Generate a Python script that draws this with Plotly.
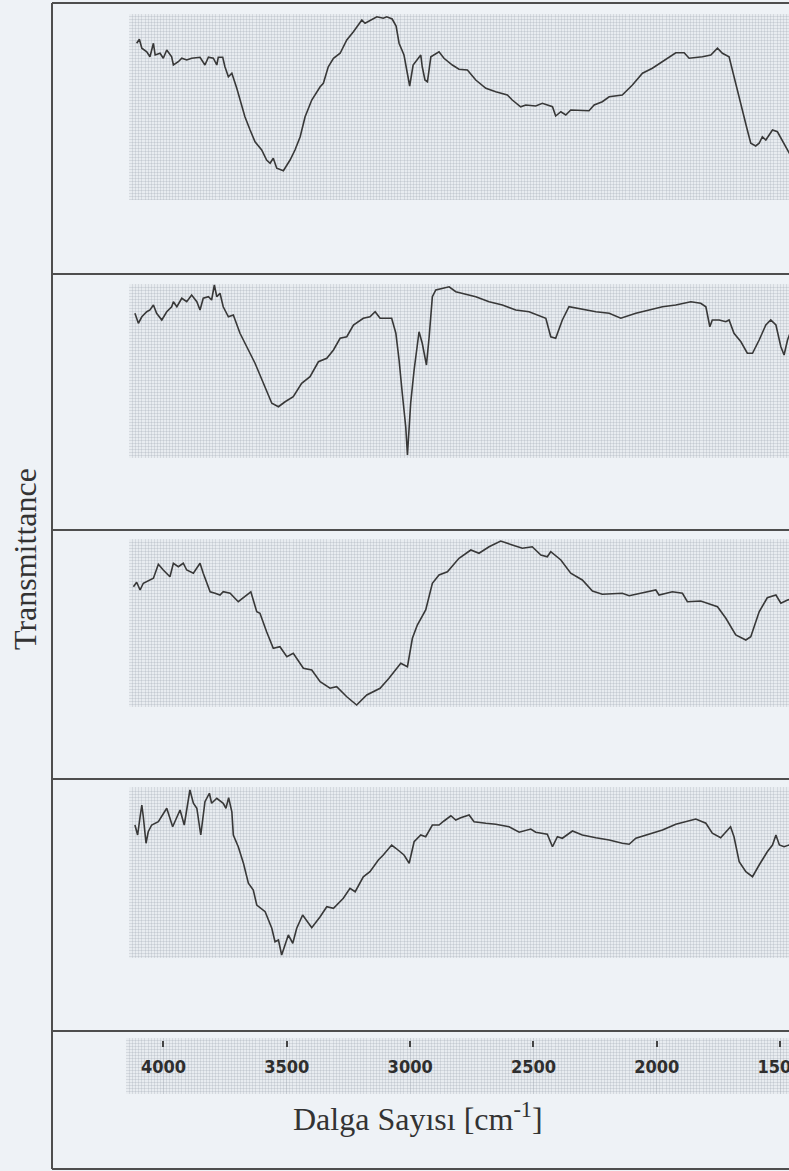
import plotly.graph_objects as go

# ---------------- data (wavenumber in cm-1, transmittance in arbitrary %) ----------------
wn1 = [4109,4098,4088,4068,4055,4041,4034,4014,4001,3987,3967,3960,3940,3926,3906,3886,3852,3832,3818,3798,
       3784,3778,3760,3751,3737,3723,3703,3690,3670,3649,3629,3602,3582,3568,3555,3541,3514,3487,3467,3446,
       3426,3399,3365,3352,3332,3311,3284,3257,3230,3196,3183,3135,3109,3095,3073,3057,3045,3025,3011,3002,
       2988,2964,2957,2951,2940,2930,2916,2883,2863,2829,2802,2768,2734,2693,2653,2606,2586,2552,2531,2491,
       2464,2423,2410,2389,2369,2349,2275,2254,2221,2193,2140,2099,2058,2018,1977,1923,1889,1869,1815,1781,
       1754,1734,1707,1687,1659,1633,1619,1599,1585,1572,1558,1531,1511,1484,1466,1455]
t1 = [92.3,93.9,90.3,88.9,86.9,92.3,87.6,88.3,86.3,89.6,86.9,83.6,84.9,86.3,85.6,86.3,86.7,83.6,86.7,86.3,
      83.6,86.7,86.7,82.9,78.9,80.3,74.3,69.6,62.9,57.6,52.9,49.6,45.6,44.3,46.3,42.3,41.3,45.6,49.6,54.9,
      62.9,69.6,74.9,76.3,82.9,86.3,88.3,93.6,96.9,101.6,100.3,102.9,102.3,102.9,102,99.2,92.3,87.6,80.3,75.2,
      83.6,86.9,87.6,82.9,77.6,76.9,86.9,88.9,86.3,83.6,81.9,81.6,77.6,74.3,72.9,71.6,69.6,66.9,67.6,67.2,
      68.3,66.9,63.2,64.9,63.6,65.6,65.3,67.6,68.9,70.9,71.6,75.6,80.3,82.3,84.9,88.5,88.5,86.3,86.9,87.6,
      90.3,88.3,86.9,78.9,66.9,57.6,52.3,51.2,52.3,54.9,53.6,57.6,56.9,52.3,48.9,47]

wn2 = [4116,4102,4088,4068,4055,4041,4028,4007,3987,3967,3960,3946,3926,3906,3886,3865,3852,3839,3818,3805,
       3794,3784,3771,3758,3737,3717,3690,3663,3629,3595,3561,3534,3507,3474,3440,3406,3372,3338,3311,3284,
       3257,3230,3190,3163,3142,3122,3075,3058,3045,3032,3018,3011,2998,2984,2964,2951,2934,2923,2910,2896,
       2869,2842,2815,2788,2734,2680,2626,2572,2518,2450,2430,2410,2383,2356,2302,2247,2193,2146,2085,2031,
       1977,1923,1862,1822,1801,1785,1775,1747,1720,1707,1687,1659,1633,1612,1585,1558,1538,1517,1497,1484,
       1470,1455]
t2 = [86.7,82.7,85.3,87.3,88,90,86.7,84,87.3,89.3,91.3,89.3,92.7,91.3,94,91.3,88,92.7,93.3,92,
      98,93.3,94.7,89.3,85.3,86,78.7,73.3,66.7,58.7,50.7,49.3,51.3,53.3,58.7,61.3,67.3,68.7,72,76.7,
      77.3,82,84.7,85.3,87.3,84.7,84.7,78.7,68,54.7,41.3,30,50.7,64,79.3,74.7,66,77.3,93.3,96,
      96.7,97.3,95.3,94.7,93.3,91.3,90,88,87.3,84.7,77.3,76.7,84,89.3,88.3,87.3,86.7,84.7,86.7,88,
      89.3,90,91.3,90.7,89.3,81.3,84,84,83.3,84,78.7,75.3,70.7,70.7,76,82,84,82,73.3,70,
      76,80]

wn3 = [4122,4109,4095,4082,4041,4021,4001,3974,3960,3940,3920,3906,3879,3852,3839,3811,3791,3771,3758,3730,
       3697,3670,3646,3622,3609,3582,3555,3528,3500,3474,3433,3399,3365,3325,3298,3257,3217,3176,3122,3086,
       3065,3038,3011,2991,2971,2937,2910,2883,2849,2802,2754,2721,2680,2633,2586,2545,2505,2470,2444,2430,
       2389,2349,2302,2261,2221,2140,2112,2058,2004,1991,1937,1896,1876,1822,1788,1754,1720,1680,1639,1619,
       1585,1552,1517,1497,1470,1455]
t3 = [76.9,78.7,75.6,78.3,80.3,85.9,83.6,80.9,86.3,84.9,86.3,83.6,82.3,86.3,82.3,74.9,74.3,73.6,74.9,74.3,
      70.9,72.9,74.9,66.9,66.3,58.9,52.3,52.9,48.9,50.3,44.3,43.6,38.9,36.3,36.9,32.9,29.6,33.6,36.3,40.3,
      42.9,46.3,44.9,56.3,61.6,67.6,78.3,81.6,82.9,88.3,91.6,90.3,92.9,95.2,93.6,92.3,92.9,89.6,88.9,90.9,
      87.6,82.3,79.6,75.2,73.9,74.3,73.3,74.3,75.6,73.6,74.9,74.3,70.9,71.2,69.9,68.9,64.3,57.6,55.6,56.9,
      66.9,72.5,73.6,70.3,71.6,72]

wn4 = [4116,4105,4095,4088,4082,4071,4062,4048,4021,3987,3963,3933,3916,3906,3893,3879,3865,3849,3832,3814,
       3805,3784,3758,3747,3736,3723,3717,3697,3676,3656,3636,3622,3588,3561,3548,3534,3521,3494,3476,3460,
       3436,3399,3365,3338,3311,3271,3244,3223,3190,3163,3129,3109,3075,3058,3025,3004,2984,2957,2937,2910,
       2883,2863,2835,2815,2795,2761,2741,2693,2653,2599,2558,2511,2491,2444,2423,2403,2383,2342,2302,2247,
       2193,2140,2112,2085,2031,1977,1923,1882,1842,1801,1775,1741,1701,1687,1666,1639,1612,1585,1552,1531,
       1517,1503,1484,1464,1455]
t4 = [82.4,78.4,85.7,90.4,85.7,75.1,79.7,82.4,83.7,89.1,81.7,88.4,82.4,89.1,96.4,91.1,89.1,78.4,91.7,95.1,
      91.1,93.1,91.1,89.1,93.3,87.7,78.4,73.7,67.1,59.1,56.4,50.4,47.7,41.1,35.7,36.4,30.4,38.4,35.1,41.1,
      46.4,41.3,45.7,49.7,49.1,53.1,57.1,55.7,61.7,63.7,68.4,70.4,74.4,73.1,70.4,67.1,75.7,78.4,77.7,82.4,
      82.4,84,86.1,84.4,85.3,86.4,83.7,83.1,82.7,81.7,79.5,80.8,79.5,78.7,73.7,77.7,77.1,80,78.4,77.3,
      76.4,75.1,74.7,77.1,78.7,80.4,82.7,83.7,84.8,83.1,79.1,77.3,81.7,77.7,67.7,63.7,61.7,66.4,71.7,74.4,
      78.4,74.4,73.7,74.4,74]

tick_vals = [4000, 3500, 3000, 2500, 2000, 1500]
tick_text = ["4000", "3500", "3000", "2500", "2000", "1500"]
x_title = "Dalga Sayısı [cm<sup>-1</sup>]"
y_title = "Transmittance"

# ---------------- layout helpers ----------------
W, H = 789, 1171
def py(p):
    return 1 - p / H

LINE = "#383838"
FRAME = "#4e4e4e"
BAND = "#e8ecf0"
GRID = "rgba(150,160,172,0.24)"
PAPER = "#eef2f6"

series = [(wn1, t1), (wn2, t2), (wn3, t3), (wn4, t4)]
ydomains = [[py(200), py(14)], [py(458), py(284)], [py(707), py(539)], [py(958), py(787)]]
yranges = [[29.6, 104], [28.8, 98.4], [28.8, 96], [29.2, 97.6]]
xdom = [129 / W, 1]
xrange_ = [4140, 1464]

fig = go.Figure()
layout = {}
for i, (wn, t) in enumerate(series, start=1):
    fig.add_trace(go.Scatter(x=wn, y=t, mode="lines", xaxis=f"x{i}", yaxis=f"y{i}",
                             line=dict(color=LINE, width=1.6), showlegend=False, hoverinfo="skip"))
    layout[f"xaxis{i}"] = dict(domain=xdom, range=xrange_, anchor=f"y{i}", showticklabels=False,
                               ticks="", showline=False, zeroline=False, showgrid=True, automargin=False,
                               tick0=0, dtick=12.5, gridcolor=GRID, gridwidth=1)
    layout[f"yaxis{i}"] = dict(domain=ydomains[i - 1], range=yranges[i - 1], anchor=f"x{i}",
                               showticklabels=False, ticks="", showline=False, zeroline=False,
                               automargin=False,
                               showgrid=True, tick0=0, dtick=1.2, gridcolor=GRID, gridwidth=1)

# bottom wavenumber axis band
fig.add_trace(go.Scatter(x=[tick_vals[0]], y=[None], mode="lines", xaxis="x5", yaxis="y5",
                         showlegend=False, hoverinfo="skip"))
layout["xaxis5"] = dict(domain=[126 / W, 1], range=[4152, 1464], anchor="free", position=py(1040),
                        side="bottom", tickvals=tick_vals, ticktext=tick_text, ticks="outside",
                        ticklen=6, tickwidth=1.5, tickcolor="#444", showline=False, zeroline=False,
                        showgrid=True, gridcolor=GRID, ticklabeloverflow="allow", automargin=False,
                        minor=dict(tick0=0, dtick=12.5, showgrid=True, gridcolor=GRID, ticks=""),
                        tickfont=dict(family="Liberation Sans Narrow, DejaVu Sans Condensed, Arial Narrow, sans-serif",
                                      size=18, color="#2e2e2e", weight="bold"),
                        ticklabelstandoff=4)
layout["yaxis5"] = dict(domain=[py(1094), py(1038)], range=[0, 56], anchor="x5", showticklabels=False,
                        ticks="", showline=False, zeroline=False, showgrid=True, tick0=0, dtick=3,
                        automargin=False, gridcolor=GRID)

shapes = []
xl = 52 / W
for yy in [3, 274, 530, 779, 1031, 1169]:
    shapes.append(dict(type="line", xref="paper", yref="paper", x0=xl, x1=1, y0=py(yy), y1=py(yy),
                       line=dict(color=FRAME, width=2)))
shapes.append(dict(type="line", xref="paper", yref="paper", x0=xl, x1=xl, y0=py(1169), y1=py(3),
                   line=dict(color=FRAME, width=2)))

annotations = [
    dict(text=y_title, xref="paper", yref="paper", x=25 / W, y=py(559), showarrow=False,
         textangle=-90, font=dict(family="Liberation Serif, Times New Roman, serif", size=32, color="#333"),
         xanchor="center", yanchor="middle"),
    dict(text=x_title, xref="paper", yref="paper", x=418 / W, y=py(1117), showarrow=False,
         font=dict(family="Liberation Serif, Times New Roman, serif", size=32, color="#333"),
         xanchor="center", yanchor="middle"),
]

fig.update_layout(width=W, height=H, margin=dict(l=0, r=0, t=0, b=0, pad=0, autoexpand=False),
                  paper_bgcolor=PAPER, plot_bgcolor=BAND, shapes=shapes, annotations=annotations,
                  showlegend=False, **layout)

clip_js = (
    "document.body.style.margin='0';"
    "document.body.style.overflow='hidden';"
)
fig.write_html("out.html", config={"displayModeBar": False, "responsive": False},
               post_script=clip_js)
